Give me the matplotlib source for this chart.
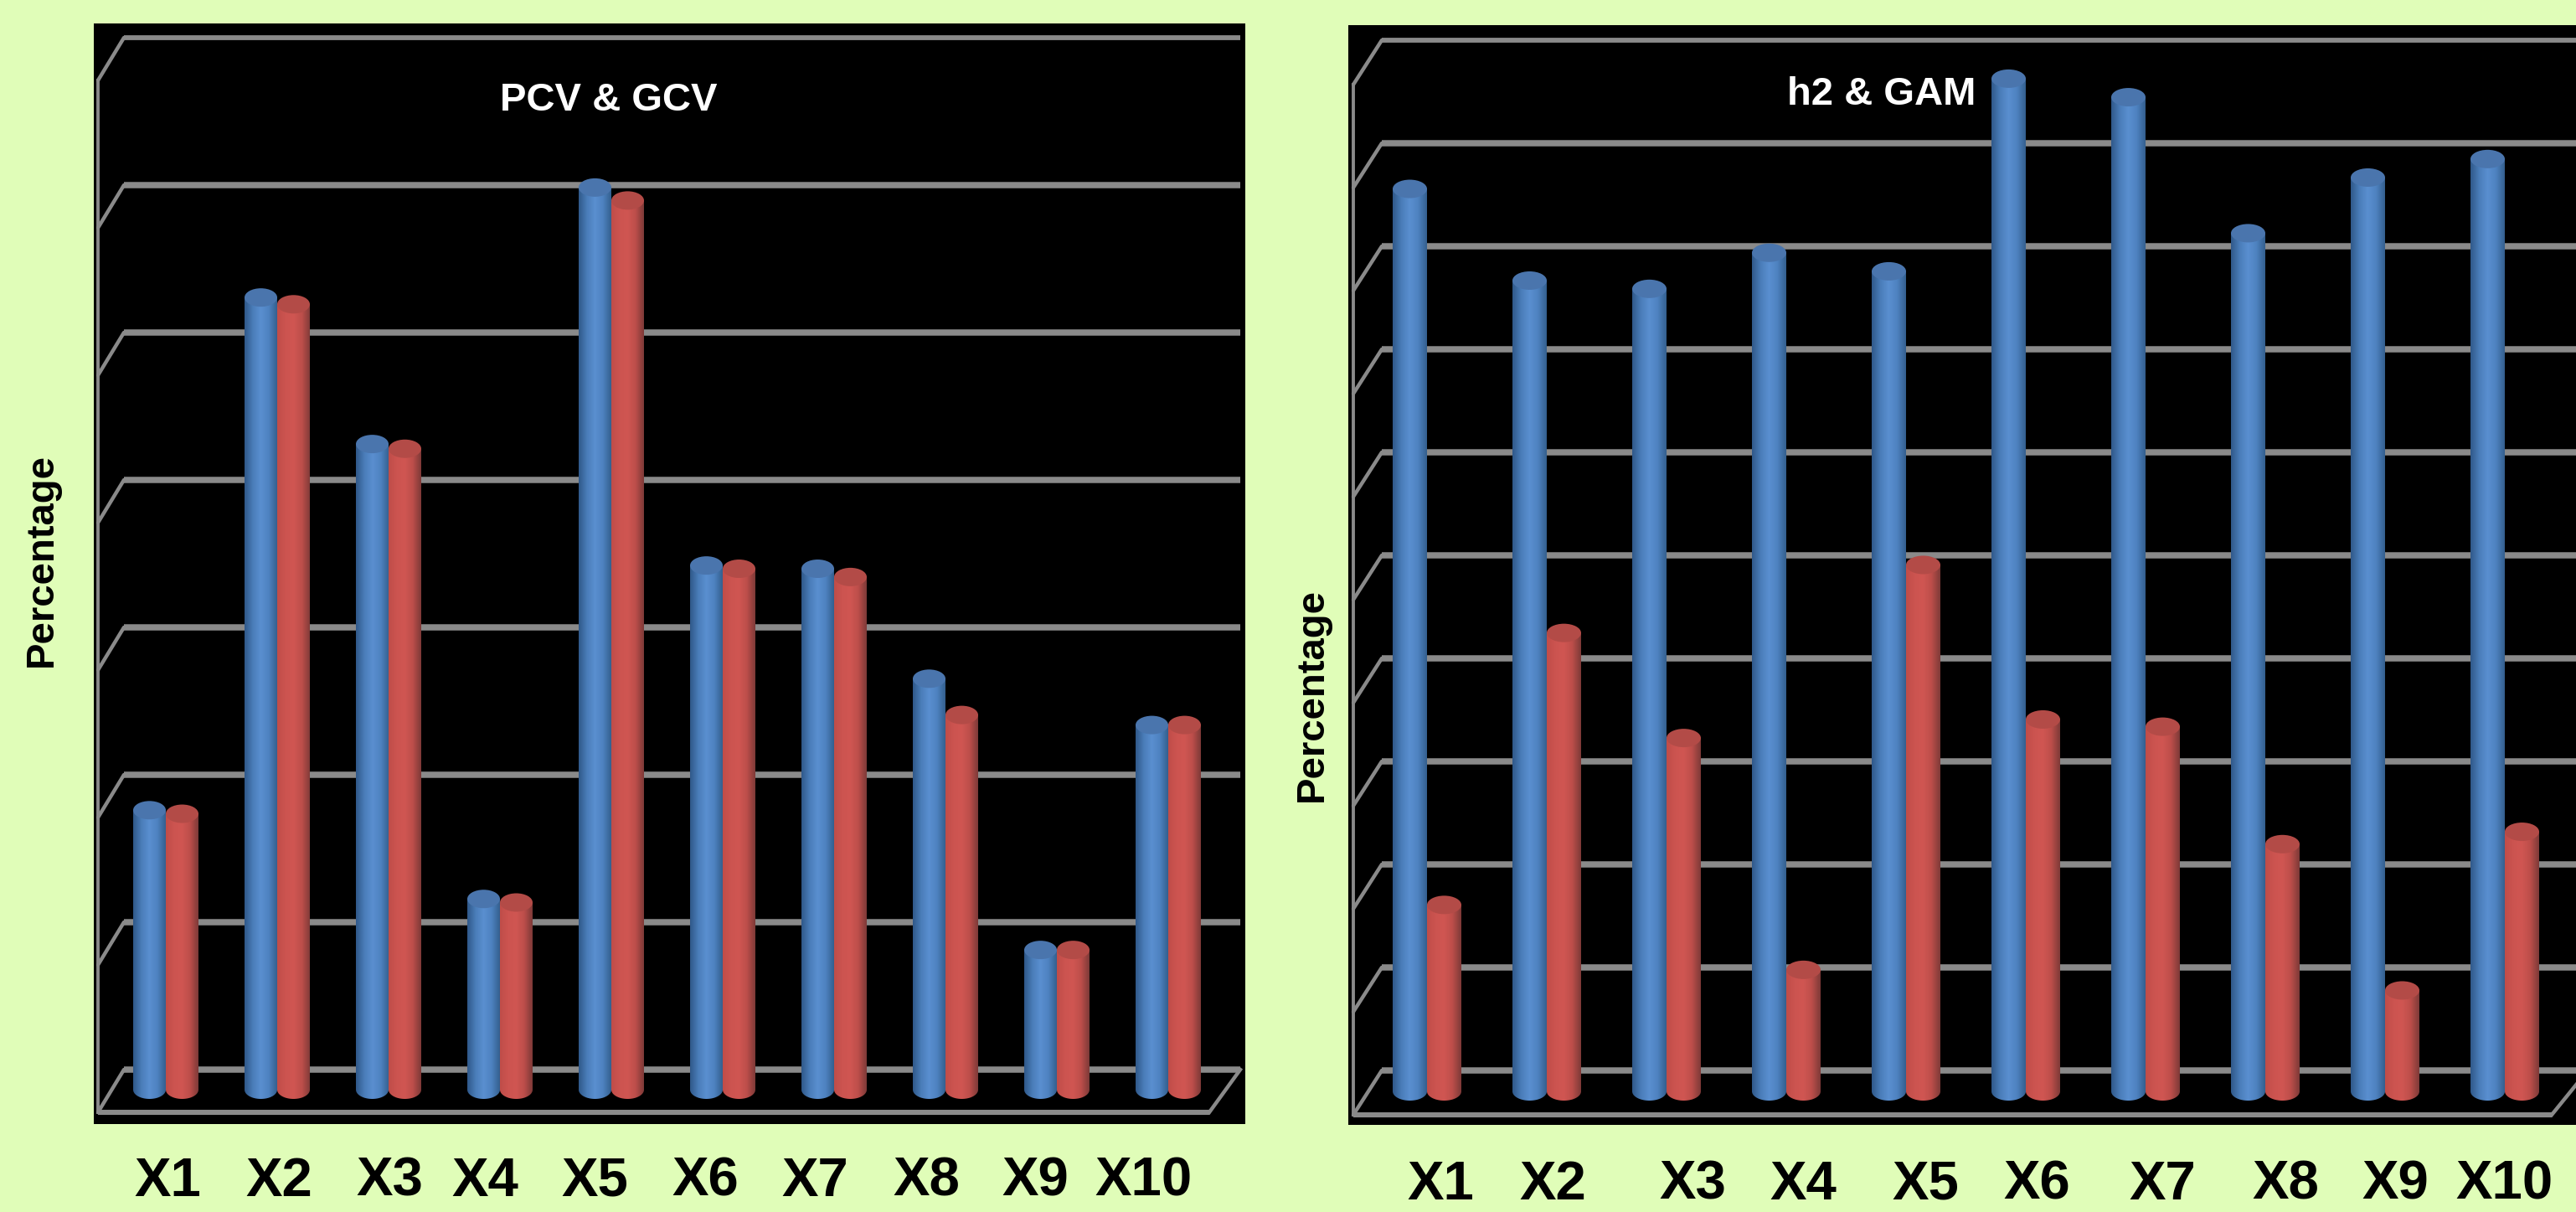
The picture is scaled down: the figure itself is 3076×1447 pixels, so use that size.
import numpy as np
import matplotlib
matplotlib.use("Agg")
import matplotlib.pyplot as plt
from matplotlib.patches import Ellipse
from matplotlib.path import Path
from matplotlib.colors import LinearSegmentedColormap

categories = ["X1", "X2", "X3", "X4", "X5", "X6", "X7", "X8", "X9", "X10"]
pcv = [9.48, 26.87, 21.9, 6.47, 30.6, 17.78, 17.67, 13.94, 4.74, 12.37]
gcv = [9.36, 26.64, 21.74, 6.35, 30.16, 17.67, 17.39, 12.71, 4.74, 12.37]
h2 = [87.6, 78.7, 77.9, 81.4, 79.6, 98.3, 96.5, 83.3, 88.7, 90.5]
gam = [18.1, 44.5, 34.3, 11.8, 51.1, 36.1, 35.4, 24.0, 9.8, 25.2]

W, H = 3076, 1447
plt.rcParams["font.family"] = ["Liberation Sans", "DejaVu Sans"]
BG = "#E0FDB8"
GRID = "#8A8A8A"
blue_cm = LinearSegmentedColormap.from_list("b", ["#30598A", "#4A7DB9", "#5A8FD0", "#4E82C0", "#34608F"])
red_cm = LinearSegmentedColormap.from_list("r", ["#C04D49", "#CC5450", "#D05652", "#BC4E4A", "#7E3A38"])
BLUE_TOP, RED_TOP = "#4A75AD", "#B34B47"

fig = plt.figure(figsize=(W / 100, H / 100), dpi=100, facecolor=BG)


def panel(box, s1, s2, step, nticks, px_per_unit, base_px, back0_px, c0_px, dx_px, off_px,
          bar_w_px, front_left, back_left, back_right, front_right, front_floor, title, title_xy,
          ylabel_xy, label_x, label_y):
    x0, y0, x1, y1 = box
    ax = fig.add_axes([x0 / W, 1 - y1 / H, (x1 - x0) / W, (y1 - y0) / H])
    ax.set_facecolor("black")
    ax.set_xticks([]); ax.set_yticks([])
    for s in ax.spines.values():
        s.set_visible(False)
    xl = ((x0 - c0_px) / dx_px, (x1 - c0_px) / dx_px)
    yl = ((base_px - y1) / px_per_unit, (base_px - y0) / px_per_unit)
    xu = lambda p: (p - c0_px) / dx_px

    back_off = (base_px - back0_px) / px_per_unit
    front_off = (base_px - front_floor) / px_per_unit
    # back-wall gridlines and side diagonals
    ticks = np.arange(nticks + 1) * step
    for t in ticks:
        lw = 5.4 if t < ticks[-1] else 4.2
        ax.plot([xu(back_left), xu(back_right)], [t + back_off] * 2, color=GRID, lw=lw,
                solid_capstyle="butt", zorder=1)
        ax.plot([xu(front_left), xu(back_left)], [t + front_off, t + back_off], color=GRID, lw=3.2,
                solid_capstyle="round", zorder=1)
    ax.plot([xu(front_left)] * 2, [front_off, ticks[-1] + front_off], color=GRID, lw=2.8, zorder=1)
    ax.plot([xu(front_left), xu(front_right)], [front_off] * 2, color=GRID, lw=4.4, zorder=1,
            solid_capstyle="butt")
    ax.plot([xu(front_right), xu(back_right)], [front_off, back_off], color=GRID, lw=3.2, zorder=1)

    w = bar_w_px / dx_px
    eh = 22 / px_per_unit
    grad = np.linspace(0, 1, 64)[None, :]
    for i in range(len(categories)):
        for vals, off, cm, top, z in ((s1, 0.0, blue_cm, BLUE_TOP, 3), (s2, off_px / dx_px, red_cm, RED_TOP, 4)):
            xc = i + off - off_px / dx_px / 2
            v = vals[i]
            theta = np.linspace(np.pi, 2 * np.pi, 40)
            pts = [(xc - w / 2, v)] + [(xc + w / 2 * np.cos(t), eh / 2 * np.sin(t)) for t in theta] + [(xc + w / 2, v), (xc - w / 2, v)]
            path = Path(pts, closed=True)
            im = ax.imshow(grad, cmap=cm, extent=[xc - w / 2, xc + w / 2, -eh / 2, v], aspect="auto",
                           interpolation="bilinear", zorder=z)
            im.set_clip_path(path, transform=ax.transData)
            ax.add_patch(Ellipse((xc, v), w, eh, facecolor=top, edgecolor="none", zorder=z + 0.1))
    ax.set_xlim(*xl); ax.set_ylim(*yl)

    fig.text(title_xy[0] / W, 1 - title_xy[1] / H, title, color="white", fontsize=34, fontweight="bold",
             ha="center", va="center")
    fig.text(ylabel_xy[0] / W, 1 - ylabel_xy[1] / H, "Percentage", color="black", fontsize=34,
             fontweight="bold", rotation=90, ha="center", va="center")
    for lab, lx in zip(categories, label_x):
        fig.text(lx / W, 1 - label_y / H, lab, color="black", fontsize=47, fontweight="bold",
                 ha="center", va="baseline")


panel((112, 28, 1487, 1342), pcv, gcv, 5, 7, 35.2, 1301, 1277, 198, 133, 39, 39,
      117, 148, 1481, 1444, 1328, "PCV & GCV", (727, 120), (50, 669),
      [200, 333, 465, 579, 710, 842, 973, 1106, 1236, 1365], 1428)
panel((1610, 30, 3076, 1343), h2, gam, 10, 10, 12.3, 1303, 1278, 1704, 143, 41, 41,
      1616, 1650, 3090, 3047, 1331, "h2 & GAM", (2247, 113), (1567, 830),
      [1720, 1854, 2021, 2153, 2299, 2432, 2582, 2729, 2860, 2990], 1432)

fig.savefig("out.png", dpi=100, facecolor=BG)
